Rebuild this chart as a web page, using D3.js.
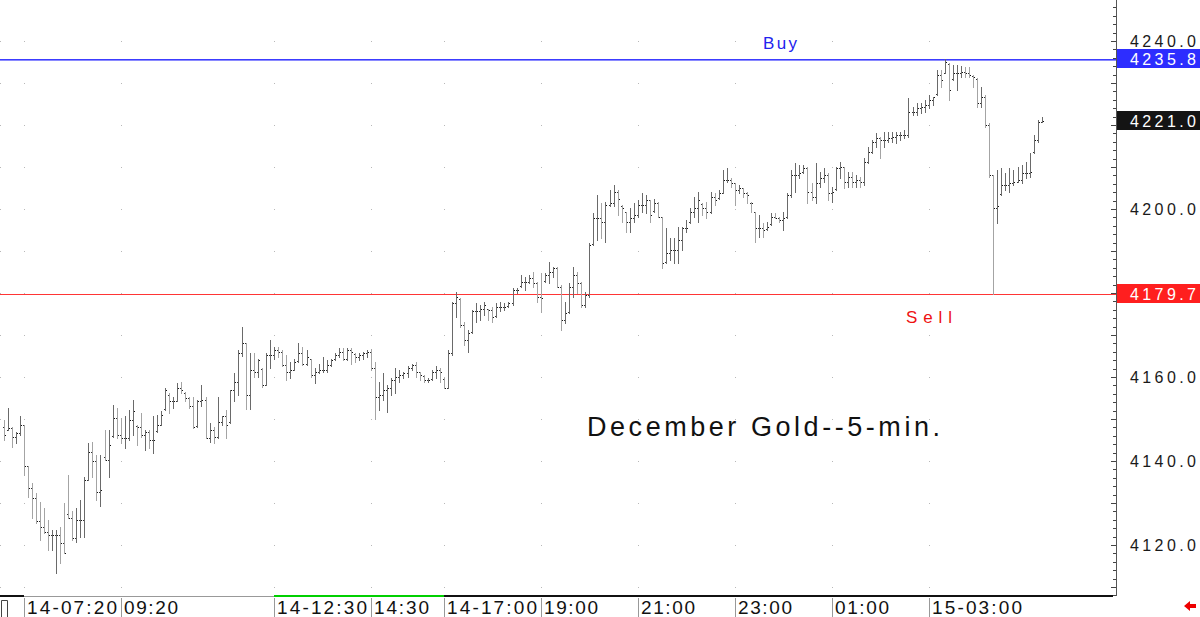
<!DOCTYPE html>
<html>
<head>
<meta charset="utf-8">
<script src="https://cdn.jsdelivr.net/npm/d3@7"></script>
<style>
  body { margin: 0; background: #fff; overflow: hidden; }
  svg text { font-family: "Liberation Sans", Arial, sans-serif; }
</style>
</head>
<body>
<div id="chart"></div>
<script>
// 5-min OHLC bars
const opens = [
  4148.0, 4147.4, 4147.8, 4145.8, 4146.6, 4148.6, 4138.7, 4133.5, 4131.1, 4125.6,
  4124.4, 4123.2, 4122.4, 4122.4, 4122.4, 4120.4, 4127.5, 4126.4, 4121.6, 4126.0,
  4126.0, 4135.5, 4142.2, 4139.9, 4132.7, 4141.0, 4140.2, 4146.0, 4150.2, 4146.2,
  4145.4, 4145.4, 4149.8, 4148.4, 4148.2, 4146.2, 4147.0, 4145.0, 4147.2, 4148.6,
  4152.4, 4155.8, 4154.2, 4154.4, 4157.3, 4156.3, 4155.0, 4153.0, 4148.4, 4154.2,
  4154.6, 4145.4, 4147.4, 4145.8, 4149.4, 4150.6, 4149.2, 4156.9, 4158.9, 4165.6,
  4168.0, 4155.7, 4161.7, 4161.3, 4162.0, 4158.1, 4165.2, 4165.2, 4166.4, 4166.0,
  4162.9, 4161.3, 4161.7, 4163.8, 4165.6, 4163.2, 4164.2, 4160.5, 4161.3, 4161.7,
  4161.7, 4162.9, 4164.2, 4165.2, 4166.0, 4164.4, 4166.4, 4165.4, 4164.8, 4165.2,
  4165.6, 4166.0, 4162.1, 4155.3, 4155.7, 4156.9, 4157.3, 4159.3, 4160.1, 4160.5,
  4160.9, 4162.1, 4162.9, 4161.1, 4160.3, 4159.3, 4159.5, 4161.3, 4161.7, 4159.5,
  4157.5, 4165.6, 4177.5, 4178.5, 4172.4, 4168.8, 4170.6, 4175.6, 4175.6, 4176.3,
  4176.1, 4176.0, 4174.6, 4176.7, 4176.7, 4176.9, 4177.5, 4180.7, 4181.7, 4182.7,
  4182.7, 4183.5, 4182.3, 4179.1, 4182.9, 4184.3, 4185.1, 4185.9, 4181.5, 4173.6,
  4175.4, 4181.5, 4184.3, 4182.3, 4177.1, 4179.5, 4191.6, 4197.8, 4197.8, 4197.0,
  4201.0, 4201.4, 4204.1, 4200.8, 4199.2, 4197.0, 4197.8, 4198.6, 4201.0, 4201.0,
  4202.1, 4199.6, 4201.4, 4198.2, 4187.3, 4189.5, 4190.2, 4190.2, 4192.6, 4195.4,
  4196.8, 4199.4, 4200.2, 4201.2, 4200.2, 4199.4, 4202.9, 4202.7, 4203.9, 4206.9,
  4206.9, 4206.1, 4204.5, 4204.9, 4203.7, 4201.5, 4199.2, 4195.4, 4195.4, 4195.2,
  4196.4, 4198.2, 4197.8, 4197.4, 4198.0, 4203.3, 4208.1, 4208.1, 4208.7, 4209.7,
  4204.1, 4202.9, 4206.1, 4207.3, 4208.1, 4203.7, 4204.7, 4209.7, 4210.1, 4206.5,
  4207.7, 4206.5, 4206.9, 4206.5, 4211.3, 4213.6, 4216.0, 4216.8, 4216.4, 4216.4,
  4216.8, 4217.2, 4217.6, 4217.6, 4217.6, 4223.2, 4223.2, 4224.0, 4224.4, 4224.8,
  4226.0, 4227.3, 4231.9, 4232.5, 4234.5, 4230.9, 4232.3, 4232.3, 4232.7, 4232.3,
  4231.7, 4230.9, 4225.2, 4226.7, 4220.0, 4208.1, 4200.2, 4203.5, 4205.7, 4205.7,
  4206.1, 4206.5, 4206.9, 4208.5, 4208.5, 4213.5, 4216.4, 4220.8
]
const highs = [
  4149.8, 4152.6, 4148.2, 4147.0, 4150.6, 4148.6, 4138.7, 4134.7, 4132.3, 4130.3,
  4128.8, 4126.0, 4123.6, 4123.6, 4124.4, 4129.9, 4136.7, 4128.0, 4128.8, 4130.7,
  4136.3, 4144.2, 4144.6, 4141.4, 4141.4, 4147.4, 4147.4, 4153.4, 4152.6, 4150.2,
  4150.6, 4152.2, 4154.6, 4148.6, 4151.4, 4147.4, 4147.4, 4150.6, 4151.0, 4151.8,
  4157.3, 4156.1, 4155.3, 4158.5, 4158.9, 4156.5, 4155.3, 4155.3, 4154.6, 4158.1,
  4155.3, 4149.0, 4148.2, 4155.3, 4150.6, 4152.2, 4156.9, 4160.9, 4166.4, 4172.0,
  4168.0, 4165.6, 4165.6, 4164.4, 4162.1, 4165.6, 4168.8, 4167.2, 4167.2, 4166.4,
  4165.2, 4163.6, 4164.4, 4168.0, 4167.2, 4166.4, 4164.4, 4162.1, 4163.2, 4164.8,
  4164.0, 4164.4, 4165.6, 4166.8, 4166.8, 4166.8, 4166.8, 4165.6, 4165.6, 4166.0,
  4166.4, 4166.6, 4163.6, 4158.9, 4160.9, 4158.1, 4159.7, 4162.1, 4161.7, 4161.3,
  4162.5, 4163.2, 4163.6, 4161.3, 4160.5, 4159.7, 4161.7, 4162.5, 4162.1, 4159.7,
  4166.4, 4177.9, 4180.3, 4178.7, 4173.2, 4171.2, 4176.0, 4177.5, 4177.1, 4177.9,
  4176.3, 4176.7, 4177.5, 4177.9, 4177.5, 4177.9, 4181.1, 4181.1, 4184.3, 4183.9,
  4184.3, 4185.1, 4182.7, 4184.7, 4184.7, 4187.5, 4186.3, 4186.3, 4181.9, 4177.9,
  4182.3, 4186.3, 4185.1, 4182.7, 4180.3, 4191.8, 4199.0, 4203.3, 4201.4, 4201.7,
  4204.5, 4205.7, 4204.5, 4201.0, 4199.4, 4200.2, 4201.4, 4202.1, 4203.7, 4203.3,
  4202.1, 4202.5, 4201.7, 4198.2, 4195.4, 4193.0, 4193.0, 4195.8, 4195.8, 4197.4,
  4200.2, 4202.9, 4204.1, 4201.4, 4201.7, 4204.1, 4203.7, 4204.5, 4209.3, 4209.7,
  4207.3, 4206.1, 4205.7, 4204.9, 4204.1, 4201.7, 4199.4, 4198.6, 4196.6, 4197.0,
  4199.0, 4199.0, 4198.2, 4199.4, 4203.7, 4209.3, 4210.9, 4210.5, 4210.5, 4210.1,
  4206.1, 4210.9, 4208.9, 4209.7, 4208.5, 4205.3, 4210.1, 4211.3, 4210.1, 4208.9,
  4208.9, 4208.1, 4207.7, 4212.1, 4214.8, 4216.4, 4218.0, 4217.2, 4218.4, 4218.4,
  4218.4, 4218.4, 4218.4, 4218.8, 4226.4, 4224.4, 4225.2, 4225.2, 4226.0, 4227.1,
  4226.7, 4233.1, 4233.1, 4235.8, 4234.7, 4234.3, 4234.3, 4234.1, 4233.9, 4233.9,
  4231.9, 4231.1, 4229.1, 4227.1, 4220.4, 4208.1, 4209.3, 4209.7, 4208.5, 4209.7,
  4209.3, 4210.1, 4210.5, 4211.3, 4213.3, 4217.6, 4221.2, 4222.0
]
const lows = [
  4145.0, 4147.4, 4143.4, 4144.2, 4146.2, 4136.7, 4131.5, 4126.4, 4125.2, 4121.2,
  4122.8, 4118.8, 4118.8, 4113.3, 4115.6, 4118.0, 4126.4, 4121.2, 4120.8, 4122.0,
  4122.0, 4135.5, 4136.3, 4130.7, 4129.2, 4140.2, 4136.3, 4145.8, 4145.4, 4144.2,
  4143.0, 4145.0, 4146.2, 4143.8, 4145.8, 4142.6, 4143.0, 4141.8, 4147.0, 4148.6,
  4152.2, 4151.4, 4152.6, 4154.2, 4156.1, 4154.2, 4152.6, 4147.8, 4148.2, 4153.0,
  4145.4, 4144.6, 4144.2, 4145.4, 4148.6, 4145.4, 4149.0, 4154.2, 4155.7, 4164.9,
  4152.5, 4152.5, 4160.1, 4160.1, 4157.7, 4158.1, 4162.1, 4164.4, 4164.8, 4162.5,
  4159.3, 4159.7, 4161.7, 4163.6, 4162.9, 4162.9, 4160.1, 4158.5, 4160.9, 4161.3,
  4161.3, 4162.5, 4164.0, 4164.8, 4164.0, 4164.0, 4163.2, 4163.6, 4164.0, 4164.4,
  4164.8, 4161.7, 4150.1, 4152.1, 4154.5, 4151.7, 4155.7, 4156.1, 4158.9, 4159.7,
  4160.1, 4161.7, 4160.1, 4159.3, 4158.9, 4158.9, 4159.3, 4159.7, 4158.9, 4157.3,
  4157.3, 4165.2, 4174.4, 4172.0, 4167.6, 4166.0, 4170.4, 4173.2, 4173.6, 4174.8,
  4173.6, 4173.2, 4174.4, 4175.6, 4176.0, 4176.7, 4177.1, 4179.9, 4181.5, 4180.7,
  4182.3, 4181.5, 4177.9, 4175.5, 4182.7, 4182.3, 4183.9, 4181.5, 4171.2, 4172.8,
  4175.2, 4179.1, 4179.9, 4176.7, 4176.7, 4179.1, 4191.4, 4192.6, 4193.0, 4192.2,
  4200.6, 4200.6, 4198.6, 4197.0, 4194.6, 4194.6, 4197.0, 4198.2, 4199.4, 4199.0,
  4197.0, 4199.4, 4198.2, 4185.9, 4187.1, 4187.9, 4187.1, 4187.1, 4190.2, 4194.6,
  4196.6, 4198.2, 4197.0, 4198.6, 4197.8, 4199.0, 4201.0, 4202.5, 4203.7, 4206.5,
  4205.3, 4201.0, 4203.7, 4202.9, 4201.4, 4199.4, 4192.2, 4193.4, 4193.4, 4195.0,
  4196.2, 4197.8, 4197.0, 4195.0, 4197.8, 4202.9, 4204.1, 4207.3, 4208.5, 4201.4,
  4202.1, 4201.4, 4205.3, 4206.5, 4202.1, 4201.7, 4204.5, 4207.3, 4204.9, 4205.3,
  4205.3, 4205.3, 4205.3, 4205.7, 4210.9, 4213.3, 4214.8, 4212.1, 4214.8, 4216.0,
  4216.0, 4215.6, 4216.4, 4216.8, 4217.2, 4222.4, 4222.4, 4222.8, 4223.2, 4224.0,
  4224.8, 4227.1, 4229.1, 4232.3, 4226.0, 4230.7, 4228.3, 4231.5, 4231.5, 4231.5,
  4229.1, 4224.4, 4224.4, 4219.6, 4207.7, 4179.7, 4196.6, 4203.3, 4204.5, 4204.1,
  4205.7, 4206.5, 4206.1, 4207.3, 4207.7, 4213.3, 4216.0, 4220.8
]
const closes = [
  4146.2, 4147.8, 4145.8, 4146.6, 4148.6, 4138.7, 4133.5, 4131.1, 4125.6, 4124.4,
  4123.2, 4122.4, 4122.4, 4122.4, 4120.4, 4118.0, 4126.4, 4121.6, 4126.0, 4126.0,
  4135.5, 4142.2, 4139.9, 4132.7, 4133.1, 4140.2, 4143.8, 4150.2, 4146.2, 4145.4,
  4145.4, 4149.8, 4151.8, 4148.2, 4146.2, 4147.0, 4145.0, 4145.0, 4148.6, 4151.0,
  4156.9, 4154.2, 4154.2, 4157.3, 4156.9, 4155.0, 4153.0, 4148.2, 4154.2, 4154.6,
  4145.4, 4147.4, 4145.8, 4149.4, 4150.6, 4148.6, 4156.9, 4158.9, 4165.6, 4168.0,
  4155.7, 4161.7, 4161.3, 4164.0, 4158.1, 4165.2, 4165.2, 4166.4, 4166.0, 4162.9,
  4161.3, 4161.7, 4163.6, 4165.6, 4163.2, 4164.8, 4160.5, 4161.3, 4161.7, 4161.7,
  4162.9, 4164.0, 4165.2, 4166.0, 4164.4, 4166.4, 4166.0, 4164.8, 4165.2, 4165.6,
  4166.0, 4162.1, 4155.3, 4155.7, 4156.9, 4157.3, 4159.3, 4160.1, 4160.5, 4160.9,
  4162.1, 4162.9, 4161.3, 4160.5, 4159.3, 4159.3, 4161.3, 4161.7, 4161.3, 4157.3,
  4165.6, 4177.5, 4179.1, 4172.4, 4168.8, 4170.4, 4175.6, 4175.6, 4176.3, 4177.1,
  4176.0, 4174.4, 4176.7, 4176.7, 4176.7, 4177.5, 4180.7, 4180.7, 4182.7, 4182.7,
  4183.5, 4182.3, 4179.1, 4178.7, 4184.3, 4185.1, 4185.9, 4181.5, 4173.6, 4175.2,
  4181.5, 4184.3, 4182.3, 4177.1, 4179.5, 4191.4, 4197.8, 4197.8, 4197.0, 4201.0,
  4201.4, 4204.1, 4202.5, 4200.2, 4197.0, 4197.8, 4198.6, 4201.0, 4201.0, 4202.1,
  4198.6, 4201.4, 4198.2, 4187.1, 4189.5, 4190.2, 4190.2, 4192.6, 4195.4, 4195.4,
  4199.4, 4200.2, 4202.1, 4200.2, 4199.4, 4202.9, 4202.1, 4203.7, 4206.9, 4206.9,
  4206.1, 4204.5, 4204.9, 4203.7, 4203.3, 4201.4, 4195.4, 4195.4, 4195.0, 4195.8,
  4198.2, 4197.8, 4197.4, 4197.8, 4203.3, 4208.1, 4208.1, 4208.5, 4209.7, 4204.1,
  4202.9, 4206.1, 4207.3, 4208.1, 4203.7, 4204.1, 4209.7, 4210.1, 4206.5, 4207.7,
  4206.5, 4206.9, 4206.5, 4211.3, 4213.6, 4216.0, 4216.8, 4216.4, 4216.4, 4216.8,
  4217.2, 4217.6, 4217.6, 4217.6, 4223.2, 4223.2, 4224.0, 4224.4, 4224.8, 4226.0,
  4226.7, 4231.9, 4230.7, 4235.1, 4228.3, 4232.3, 4232.3, 4232.7, 4232.3, 4231.9,
  4231.5, 4225.2, 4226.7, 4220.0, 4208.1, 4200.2, 4200.6, 4205.7, 4205.7, 4206.1,
  4206.5, 4206.9, 4208.5, 4208.5, 4208.9, 4216.4, 4220.8, 4221.0
]

// time axis labels and the bar they start at
const timeLabels = ["14-07:20", "09:20", "14-12:30", "14:30", "14-17:00", "19:00", "21:00", "23:00", "01:00", "15-03:00"]
const timeLabelBars = [5, 29, 67, 91, 109, 133, 157, 181, 205, 229]
const timeLabelWidths = [90, 54, 90, 55, 90, 54, 54, 54, 54, 90]

// price axis
const priceLabels = [4240, 4220, 4200, 4180, 4160, 4140, 4120]
const buyLevel = 4235.8
const sellLevel = 4179.7
const lastPrice = closes[closes.length - 1]

const W = 1200, H = 617
const PLOT_RIGHT = 1116
const AXIS_Y = 596

const svg = d3.select("#chart").append("svg")
    .attr("width", W)
    .attr("height", H)
    .style("background", "#fff")

const x = d3.scaleLinear().domain([0, closes.length - 1]).range([3.5, 3.5 + 4.04 * (closes.length - 1)])
const y = d3.scaleLinear().domain([4120, 4240]).range([545, 41])
const py = v => Math.round(y(v))

// faint dotted grid at the time dividers
const gridX = [0].concat(timeLabelBars.map(i => Math.round(x(i))))
const gridY = d3.range(4110, 4250, 10)
let dots = []
gridX.forEach(gx => gridY.forEach(gy => dots.push([gx, py(gy)])))
svg.append("g").selectAll("rect")
    .data(dots)
    .join("rect")
    .attr("x", d => d[0])
    .attr("y", d => d[1])
    .attr("width", 1)
    .attr("height", 1)
    .attr("fill", "#b8b8b8")

// buy / sell lines
svg.append("rect")
    .attr("x", 0).attr("width", PLOT_RIGHT)
    .attr("y", py(buyLevel)).attr("height", 1)
    .attr("fill", "#3c3cff")
svg.append("rect")
    .attr("x", 0).attr("width", PLOT_RIGHT)
    .attr("y", py(buyLevel) + 1).attr("height", 1)
    .attr("fill", "#8a8aff")
svg.append("rect")
    .attr("x", 0).attr("width", PLOT_RIGHT)
    .attr("y", py(sellLevel)).attr("height", 1)
    .attr("fill", "#ff3535")

// OHLC bars
const idx = d3.range(closes.length)
const bars = svg.append("g").attr("shape-rendering", "crispEdges")
bars.selectAll("rect.hl")
    .data(idx)
    .join("rect")
    .attr("class", "hl")
    .attr("x", i => Math.round(x(i)))
    .attr("y", i => py(highs[i]))
    .attr("width", 1)
    .attr("height", i => Math.max(1, py(lows[i]) - py(highs[i]) + 1))
    .attr("fill", i => closes[i] >= opens[i] ? "#6a6a6a" : "#a4a4a4")
bars.selectAll("rect.op")
    .data(idx)
    .join("rect")
    .attr("class", "op")
    .attr("x", i => Math.round(x(i)) - 1)
    .attr("y", i => py(opens[i]))
    .attr("width", 1).attr("height", 1)
    .attr("fill", "#333")
bars.selectAll("rect.cl")
    .data(idx)
    .join("rect")
    .attr("class", "cl")
    .attr("x", i => Math.round(x(i)) + 1)
    .attr("y", i => py(closes[i]))
    .attr("width", 1).attr("height", 1)
    .attr("fill", "#111")

// Buy / Sell text and title
svg.append("text")
    .attr("x", 763).attr("y", 49)
    .attr("textLength", 34).attr("lengthAdjust", "spacing")
    .attr("font-size", "17px").attr("fill", "#2222ee")
    .text("Buy")
svg.append("text")
    .attr("x", 906).attr("y", 323)
    .attr("textLength", 46).attr("lengthAdjust", "spacing")
    .attr("font-size", "17px").attr("fill", "#ee1111")
    .text("Sell")
svg.append("text")
    .attr("x", 587).attr("y", 436)
    .attr("textLength", 353).attr("lengthAdjust", "spacing")
    .attr("font-size", "27px").attr("fill", "#111")
    .text("December Gold--5-min.")

// right price axis
const axisG = svg.append("g").attr("shape-rendering", "crispEdges")
axisG.append("line")
    .attr("x1", PLOT_RIGHT + 0.5).attr("x2", PLOT_RIGHT + 0.5)
    .attr("y1", 0).attr("y2", AXIS_Y)
    .attr("stroke", "#555")
axisG.selectAll("line.tk")
    .data(d3.range(4108, 4250, 2))
    .join("line")
    .attr("class", "tk")
    .attr("x1", d => d % 10 === 0 ? PLOT_RIGHT - 5 : PLOT_RIGHT - 3)
    .attr("x2", PLOT_RIGHT)
    .attr("y1", d => py(d) + 0.5).attr("y2", d => py(d) + 0.5)
    .attr("stroke", "#444")

const markerLevels = [buyLevel, sellLevel, lastPrice]
axisG.selectAll("text.pl")
    .data(priceLabels.filter(p => markerLevels.every(m => Math.abs(y(m) - y(p)) > 14)))
    .join("text")
    .attr("class", "pl")
    .attr("x", 1130).attr("y", d => y(d) + 6)
    .attr("textLength", 66).attr("lengthAdjust", "spacing")
    .attr("font-size", "16px").attr("fill", "#1a1a1a")
    .text(d => d3.format(".1f")(d))

const markers = [
    {v: buyLevel, fill: "#2d2dff"},
    {v: lastPrice, fill: "#141414"},
    {v: sellLevel, fill: "#ff1f1f"}
]
const mk = svg.append("g").selectAll("g")
    .data(markers)
    .join("g")
mk.append("rect")
    .attr("x", PLOT_RIGHT + 1).attr("y", d => py(d.v) - 10)
    .attr("width", W - PLOT_RIGHT - 1).attr("height", 19)
    .attr("fill", d => d.fill)
mk.append("text")
    .attr("x", 1130).attr("y", d => py(d.v) + 6)
    .attr("textLength", 66).attr("lengthAdjust", "spacing")
    .attr("font-size", "16px").attr("fill", "#fff")
    .text(d => d3.format(".1f")(d.v))

// bottom time axis
const bx = timeLabelBars.map(i => Math.round(x(i)))
const baseG = svg.append("g").attr("shape-rendering", "crispEdges")
baseG.append("line").attr("x1", 0).attr("x2", bx[0]).attr("y1", AXIS_Y).attr("y2", AXIS_Y)
    .attr("stroke", "#111").attr("stroke-width", 2)
baseG.append("line").attr("x1", bx[0]).attr("x2", bx[2]).attr("y1", AXIS_Y + 0.5).attr("y2", AXIS_Y + 0.5)
    .attr("stroke", "#999").attr("stroke-width", 1)
baseG.append("line").attr("x1", bx[2]).attr("x2", bx[4]).attr("y1", AXIS_Y).attr("y2", AXIS_Y)
    .attr("stroke", "#00d000").attr("stroke-width", 2)
baseG.append("line").attr("x1", bx[4]).attr("x2", PLOT_RIGHT - 3).attr("y1", AXIS_Y).attr("y2", AXIS_Y)
    .attr("stroke", "#111").attr("stroke-width", 2)

baseG.selectAll("line.div")
    .data(bx)
    .join("line")
    .attr("class", "div")
    .attr("x1", d => d + 0.5).attr("x2", d => d + 0.5)
    .attr("y1", AXIS_Y + 2).attr("y2", H)
    .attr("stroke", "#999")

svg.append("g").selectAll("text")
    .data(timeLabels)
    .join("text")
    .attr("x", (d, i) => bx[i] + 3)
    .attr("y", 614)
    .attr("textLength", (d, i) => timeLabelWidths[i])
    .attr("lengthAdjust", "spacing")
    .attr("font-size", "19px")
    .attr("fill", "#111")
    .text(d => d)

// small corner glyphs
svg.append("path")
    .attr("d", "M1.5,617 V600.5 H7.5 V617")
    .attr("fill", "none").attr("stroke", "#444")
svg.append("path")
    .attr("d", "M1184,606 L1190,601 L1190,604 L1196,604 L1196,608 L1190,608 L1190,611 Z")
    .attr("fill", "#ee0000")
</script>
</body>
</html>
